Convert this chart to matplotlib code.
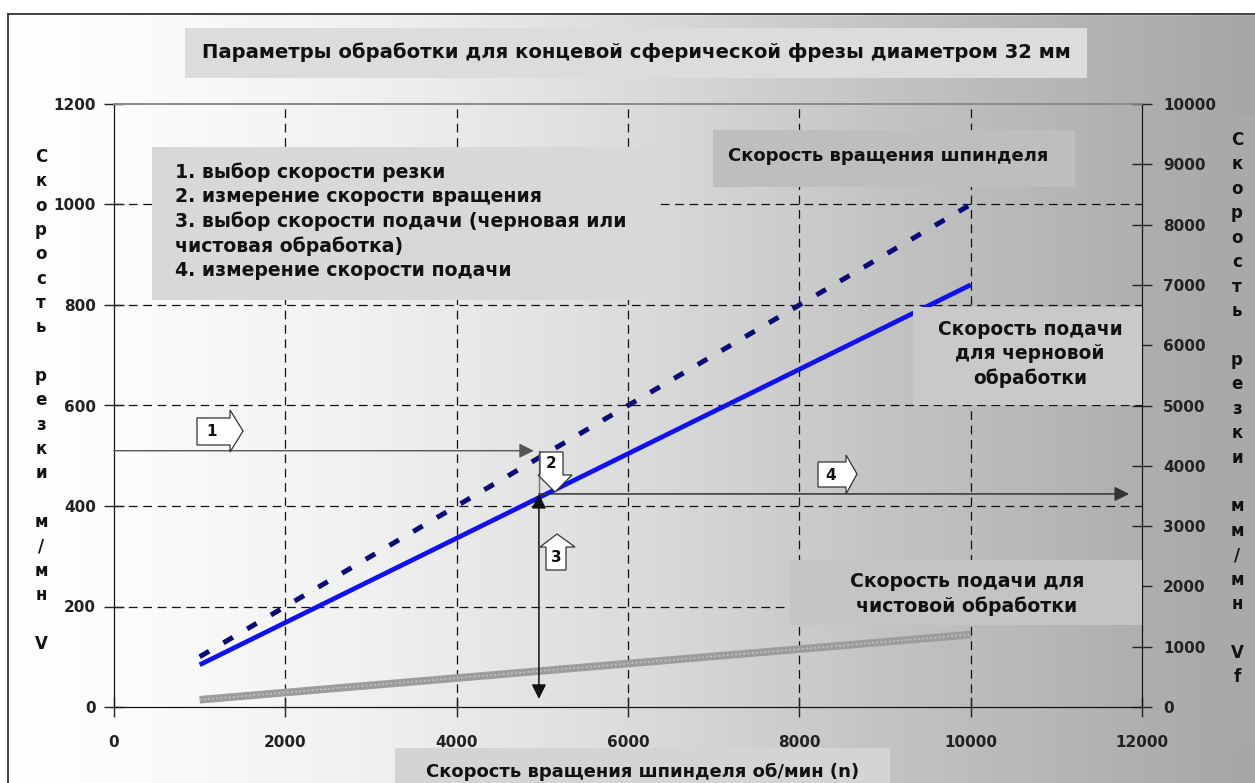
import matplotlib
matplotlib.use('Agg')
import matplotlib.pyplot as plt
import numpy as np
from matplotlib.patches import Rectangle, Polygon

# ---------------- data ----------------
spindle_n = [1000, 10000]          # об/мин
cut_speed = [100, 1000]            # м/мин (left axis)
feed_rough = [700, 7000]           # мм/мин (right axis)
feed_finish = [120, 1200]          # мм/мин (right axis)

x_ticks = [0, 2000, 4000, 6000, 8000, 10000, 12000]
left_ticks = [0, 200, 400, 600, 800, 1000, 1200]
right_ticks = [0, 1000, 2000, 3000, 4000, 5000, 6000, 7000, 8000, 9000, 10000]

title = "Параметры обработки для концевой сферической фрезы диаметром 32 мм"
steps = ["1. выбор скорости резки",
         "2. измерение скорости вращения",
         "3. выбор скорости подачи (черновая или",
         "чистовая обработка)",
         "4. измерение скорости подачи"]
lbl_spindle = "Скорость вращения шпинделя"
lbl_rough = "Скорость подачи\nдля черновой\nобработки"
lbl_finish = "Скорость подачи для\nчистовой обработки"
xlabel = "Скорость вращения шпинделя об/мин (n)"
ylabel_left = "Скорость\n\nрезки\n\nм/мн\n\nV"
ylabel_right = "Скорость\n\nрезки\n\nмм/мн\n\nVf"

# example path (data coords)
sel_v = 510
sel_n = 4960
sel_feed_v = 424

W, H = 1255, 783
plt.rcParams['font.family'] = ['DejaVu Sans']
plt.rcParams['font.weight'] = 'bold'

fig = plt.figure(figsize=(W / 100, H / 100), dpi=100)

def fx(x):
    return x / W

def fy(y):
    return 1 - y / H

# ---------- background ----------
bg = fig.add_axes([0, 0, 1, 1], zorder=-10)
bg.set_axis_off()
xs = np.linspace(0, 1, 800)
vals = np.interp(xs, [0, 0.1, 0.3, 0.5, 0.7, 1.0],
                 [255, 252, 240, 220, 196, 166]) / 255
grad = np.tile(vals, (2, 1))
bg.imshow(np.dstack([grad] * 3), extent=[0, 1, 0, 1], aspect='auto')
bg.set_xlim(0, 1)
bg.set_ylim(0, 1)
bg.add_patch(Rectangle((0, fy(14)), 1, 1, color='white'))
bg.add_patch(Rectangle((0, 0), fx(8), 1, color='white'))
bg.plot([fx(8), fx(8)], [0, fy(14)], color='#333333', lw=1.3)
bg.plot([fx(8), 1], [fy(14), fy(14)], color='#333333', lw=1.3)
# right label strip
bg.add_patch(Rectangle((fx(1213), fy(745)), fx(42), fy(115) - fy(745),
                       color='#a9a9a9', lw=0))

# ---------- main axes ----------
ax = fig.add_axes([fx(114), fy(707), fx(1142) - fx(114), fy(104) - fy(707)])
ax.patch.set_alpha(0)
ax.set_xlim(0, 12000)
ax.set_ylim(0, 1200)
ax2 = ax.twinx()
ax2.set_ylim(0, 10000)

ax.set_xticks(x_ticks)
ax.set_yticks(left_ticks)
ax2.set_yticks(right_ticks)
ax.set_xticklabels([str(t) for t in x_ticks])
ax.set_yticklabels([str(t) for t in left_ticks])
ax2.set_yticklabels([str(t) for t in right_ticks])
for a in (ax, ax2):
    a.tick_params(direction='inout', length=14, width=1, color='#222222',
                  labelsize=11, labelcolor='#222222')
ax.tick_params(axis='x', pad=13.5)
ax.tick_params(axis='y', pad=6)
ax2.tick_params(axis='y', pad=8)
for lab in ax.get_xticklabels() + ax.get_yticklabels() + ax2.get_yticklabels():
    lab.set_fontweight('bold')

for a in (ax, ax2):
    a.spines['top'].set_color('#8a8a8a')
    a.spines['top'].set_linewidth(1.2)
    a.spines['left'].set_color('#111111')
    a.spines['right'].set_color('#111111')
    a.spines['bottom'].set_color('#111111')

# grid
for t in x_ticks[1:-1]:
    ax.axvline(t, color='#111111', lw=0.9, dashes=(7, 4.5), zorder=1)
for t in left_ticks[1:-1]:
    ax.axhline(t, color='#111111', lw=0.9, dashes=(7, 4.5), zorder=1)

# series
ax.plot(spindle_n, cut_speed, color='#0a0a78', lw=3.6, dashes=(2.2, 3.3),
        solid_capstyle='butt', zorder=3)
ax2.plot(spindle_n, feed_rough, color='#1010f0', lw=3.4, zorder=3,
         solid_capstyle='butt')
ax2.plot(spindle_n, feed_finish, color='#9c9c9c', lw=5.5, zorder=3,
         solid_capstyle='butt')
ax2.plot(spindle_n, feed_finish, color='#c4c4c4', lw=1.2, dashes=(1, 1.5),
         zorder=3)

# path arrows
T = ax.transData
ax2.annotate('', xy=(sel_n - 60, sel_v), xytext=(0, sel_v), xycoords=T,
             textcoords=T, arrowprops=dict(arrowstyle='-|>', color='#555555',
                                           lw=1.0, mutation_scale=22,
                                           shrinkA=0, shrinkB=0), zorder=6)
ax2.plot([sel_n, sel_n], [sel_v, sel_feed_v], color='#777777', lw=1.0,
         transform=T, zorder=6)
ax2.annotate('', xy=(sel_n, 16), xytext=(sel_n, sel_feed_v), xycoords=T,
             textcoords=T, arrowprops=dict(arrowstyle='<|-|>', color='#111111',
                                           lw=1.1, mutation_scale=22,
                                           shrinkA=0, shrinkB=0), zorder=6)
ax2.annotate('', xy=(11850, sel_feed_v), xytext=(sel_n, sel_feed_v),
             xycoords=T, textcoords=T,
             arrowprops=dict(arrowstyle='-|>', color='#333333', lw=1.1,
                             mutation_scale=22, shrinkA=0, shrinkB=0),
             zorder=6)

# ---------- boxes & texts (pixel layout) ----------
def box(x0, y0, x1, y1, color, z=5):
    fig.patches.append(Rectangle((fx(x0), fy(y1)), fx(x1) - fx(x0),
                                 fy(y0) - fy(y1), transform=fig.transFigure,
                                 facecolor=color, edgecolor='none', zorder=z))

def block(points, label, lx, ly):
    pts = [(fx(x), fy(y)) for x, y in points]
    fig.patches.append(Polygon(pts, closed=True, transform=fig.transFigure,
                               facecolor='white', edgecolor='#333333',
                               lw=0.9, zorder=8))
    fig.text(fx(lx), fy(ly), label, ha='center', va='center', fontsize=11,
             fontweight='bold', color='#111111', zorder=9)

box(185, 28, 1087, 78, '#dcdcdc')
fig.text(fx(636), fy(52), title, ha='center', va='center', fontsize=14.1,
         fontweight='bold', color='#111111', zorder=6)

box(152, 147, 655, 300, '#d8d8d8')
for i, s in enumerate(steps):
    fig.text(fx(175), fy(172 + i * 24.6), s, ha='left', va='center',
             fontsize=13.6, fontweight='bold', color='#111111', zorder=6)

box(713, 130, 1075, 187, '#bebebe')
fig.text(fx(728), fy(156), lbl_spindle, ha='left', va='center',
         fontsize=13.0, fontweight='bold', color='#111111', zorder=6)

box(913, 307, 1142, 405, '#c9c9c9')
fig.text(fx(1030), fy(354), lbl_rough, ha='center', va='center',
         fontsize=13.4, fontweight='bold', color='#111111', zorder=6,
         linespacing=1.35)

box(790, 560, 1142, 625, '#c4c4c4')
fig.text(fx(967), fy(594), lbl_finish, ha='center', va='center',
         fontsize=13.6, fontweight='bold', color='#111111', zorder=6,
         linespacing=1.35)

box(395, 748, 890, 790, '#d4d4d4')
fig.text(fx(643), fy(777), xlabel, ha='center', va='baseline',
         fontsize=13.0, fontweight='bold', color='#111111', zorder=6)

# vertical stacked axis labels
def stacked(text, x, y0, step):
    row = 0
    for line in text.split('\n'):
        if line == '':
            row += 1
            continue
        for ch in line:
            fig.text(fx(x), fy(y0 + row * step), ch, ha='center', va='center',
                     fontsize=12, fontweight='bold', color='#111111', zorder=6)
            row += 1

stacked(ylabel_left, 41, 157, 24.33)
stacked(ylabel_right, 1237, 140, 24.43)

# block arrows
block([(197, 418), (230, 418), (230, 410), (243, 431), (230, 452),
       (230, 445), (197, 445)], '1', 212, 432)
block([(540, 452), (563, 452), (563, 475), (572, 475), (555, 492),
       (538, 475), (540, 475)], '2', 551, 464)
block([(546, 570), (566, 570), (566, 547), (575, 547), (557, 534),
       (540, 547), (546, 547)], '3', 556, 558)
block([(818, 462), (846, 462), (846, 455), (857, 474), (846, 494),
       (846, 487), (818, 487)], '4', 831, 475)

fig.savefig('out.png', dpi=100)
